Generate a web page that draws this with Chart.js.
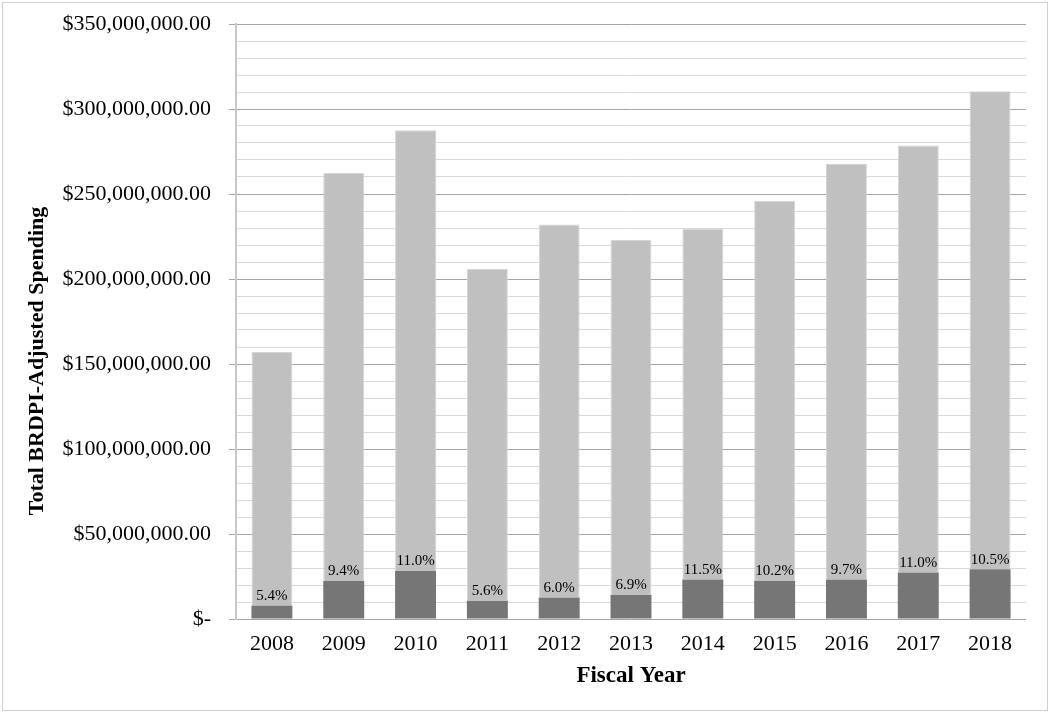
<!DOCTYPE html>
<html>
<head>
<meta charset="utf-8">
<script src="https://cdn.jsdelivr.net/npm/chart.js@4.4.1/dist/chart.umd.min.js"></script>
<style>
  html, body { margin: 0; padding: 0; background: #fff; }
  #wrap { position: relative; width: 1050px; height: 713px; }
  #frame { position: absolute; left: 2px; top: 2px; width: 1044px; height: 707px; border: 1px solid #d0d0d0; pointer-events: none; }
  canvas { display: block; }
</style>
</head>
<body>
<div id="wrap">
  <canvas id="c" width="1050" height="713"></canvas>
  <div id="frame"></div>
</div>
<script>
const years = ['2008','2009','2010','2011','2012','2013','2014','2015','2016','2017','2018'];
// Total BRDPI-adjusted spending (top of light bar)
const totalSpending = [157e6, 262.5e6, 287.5e6, 206e6, 232e6, 223e6, 229.5e6, 246e6, 267.6e6, 278.6e6, 310.4e6];
// Dark portion at the bottom of each bar
const darkPortion = [8e6, 22.4e6, 28.2e6, 10.8e6, 12.7e6, 14.1e6, 23.3e6, 22.4e6, 23.3e6, 27.4e6, 29.2e6];
const pctLabels = ['5.4%','9.4%','11.0%','5.6%','6.0%','6.9%','11.5%','10.2%','9.7%','11.0%','10.5%'];
const yTickMax = 350e6;

const lightPortion = totalSpending.map((t, i) => t - darkPortion[i]);
const serif = '"Liberation Serif", "Times New Roman", serif';

const labelPlugin = {
  id: 'pctLabels',
  afterDatasetsDraw(chart) {
    const ctx = chart.ctx;
    const meta = chart.getDatasetMeta(0);
    ctx.save();
    ctx.font = '15px ' + serif;
    ctx.fillStyle = '#000';
    ctx.textAlign = 'center';
    ctx.textBaseline = 'bottom';
    meta.data.forEach((bar, i) => {
      ctx.fillText(pctLabels[i], bar.x, bar.y - 2);
    });
    ctx.restore();
  }
};

const titlePlugin = {
  id: 'axisTitles',
  afterDraw(chart) {
    const ctx = chart.ctx;
    const xs = chart.scales.x;
    ctx.save();
    ctx.fillStyle = '#000';
    ctx.font = 'bold 23px ' + serif;
    ctx.textAlign = 'center';
    ctx.textBaseline = 'middle';
    ctx.fillText('Fiscal Year', (xs.left + xs.right) / 2, 676);
    ctx.font = 'bold 22px ' + serif;
    ctx.translate(37, 361);
    ctx.rotate(-Math.PI / 2);
    ctx.fillText('Total BRDPI-Adjusted Spending', 0, 0);
    ctx.restore();
  }
};

new Chart(document.getElementById('c'), {
  type: 'bar',
  data: {
    labels: years,
    datasets: [
      { label: 'Dark', data: darkPortion, backgroundColor: '#767676', borderColor: '#767676', borderWidth: 0 },
      { label: 'Light', data: lightPortion, backgroundColor: '#c0c0c0', borderColor: '#d4d4d4', borderWidth: {top: 1, left: 1, right: 1, bottom: 0}, borderSkipped: 'bottom' }
    ]
  },
  plugins: [labelPlugin, titlePlugin],
  options: {
    responsive: false,
    animation: false,
    devicePixelRatio: 1,
    layout: { padding: { left: 0, top: 24, right: 24, bottom: 0 } },
    plugins: { legend: { display: false }, tooltip: { enabled: false } },
    datasets: { bar: { categoryPercentage: 1.0, barPercentage: 0.57 } },
    scales: {
      x: {
        stacked: true,
        grid: { display: false, drawTicks: false },
        border: { display: false },
        ticks: { color: '#000', font: { family: serif, size: 22 }, padding: 12, maxRotation: 0 },
        afterFit(s) { s.height = 94; s.paddingLeft = 0; s.paddingRight = 0; }
      },
      y: {
        stacked: true,
        min: 0,
        max: yTickMax,
        afterBuildTicks(s) {
          const t = [];
          for (let v = 0; v <= yTickMax; v += 10e6) t.push({ value: v });
          s.ticks = t;
        },
        grid: {
          color: (c) => (c.tick && c.tick.value % 50e6 === 0) ? '#a6a6a6' : '#d9d9d9',
          tickColor: (c) => (c.tick && c.tick.value % 50e6 === 0) ? '#a6a6a6' : 'rgba(0,0,0,0)',
          tickLength: 7,
          lineWidth: 1
        },
        border: { display: true, color: '#c8c8c8', width: 2 },
        ticks: {
          color: '#000',
          font: { family: serif, size: 22 },
          padding: 18,
          autoSkip: false,
          callback(v) {
            if (v % 50e6 !== 0) return '';
            if (v === 0) return '$-';
            return '$' + v.toLocaleString('en-US', { minimumFractionDigits: 2, maximumFractionDigits: 2 });
          }
        },
        afterFit(s) { s.width = 236; s.paddingTop = 0; s.paddingBottom = 0; }
      }
    }
  }
});
</script>
</body>
</html>
